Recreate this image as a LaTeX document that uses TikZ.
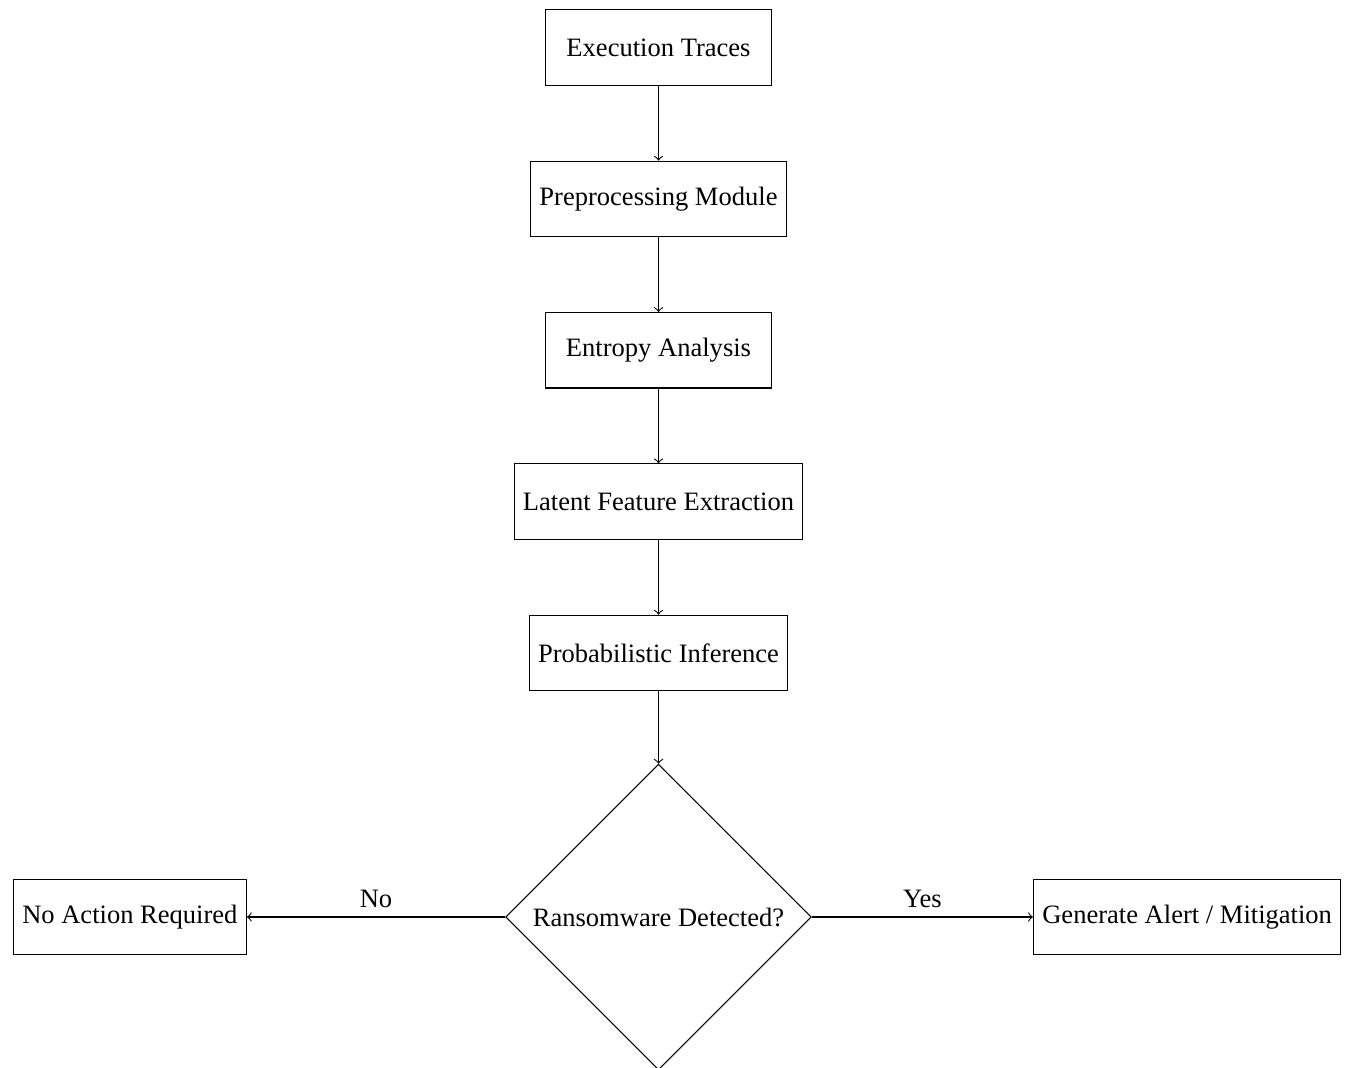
\documentclass[tikz,border=0pt]{standalone}
\usepackage{fontspec}
\setmainfont{Liberation Serif}
\usetikzlibrary{shapes.geometric,positioning}

\begin{document}
\begin{tikzpicture}[node distance=0.99cm,auto,
    block/.style={rectangle,draw,minimum width=3cm,minimum height=1cm},
    decision/.style={diamond,draw,aspect=1}]
   \useasboundingbox (-8.72,0.63) rectangle (9.17,-13.51);
   \node[block] (trace) {Execution Traces};
   \node[block] (prep) [below=of trace] {Preprocessing Module};
   \node[block] (entropy) [below=of prep] {Entropy Analysis};
   \node[block] (latent) [below=of entropy] {Latent Feature Extraction};
   \node[block] (infer) [below=of latent] {Probabilistic Inference};
   \node[decision] (detect) [below=0.96cm of infer] {Ransomware Detected?};
   \node[block] (noact) [on grid,left=7cm of detect] {No Action Required};
   \node[block] (alert) [on grid,right=7cm of detect] {Generate Alert / Mitigation};
    \path[->]
    (trace) edge (prep)
    (prep) edge (entropy)
    (entropy) edge (latent)
    (latent) edge (infer)
    (infer) edge (detect)
    (detect) edge node[swap] {No} (noact)
             edge node {Yes} (alert);
\end{tikzpicture}
\end{document}
